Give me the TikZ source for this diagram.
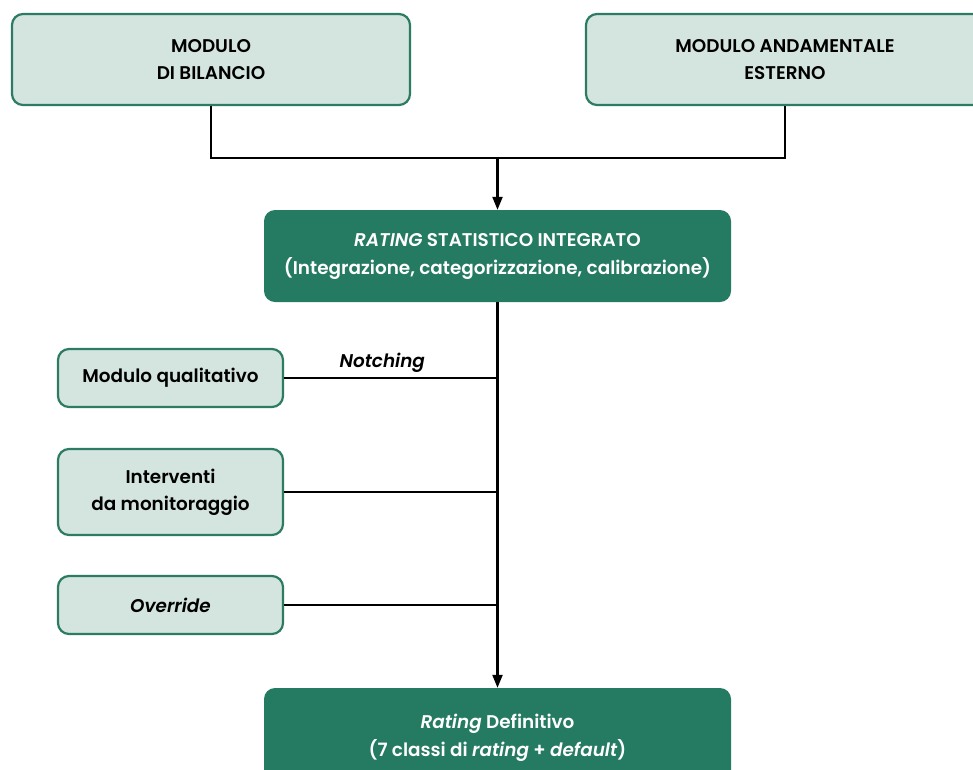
\documentclass[tikz,border=0pt]{standalone}
\usepackage{fontspec}
\setmainfont{Poppins SemiBold}[ItalicFont={Poppins SemiBold Italic}]
\usetikzlibrary{arrows.meta,positioning}
\definecolor{lightfill}{HTML}{D4E4DF}
\definecolor{gborder}{HTML}{2C7B63}
\definecolor{darkfill}{HTML}{257A62}
\begin{document}
\begin{tikzpicture}[x=1pt,y=1pt,
  lightbox/.style={draw=gborder,line width=2.2pt,fill=lightfill,rounded corners=11pt,align=center,font=\fontsize{18.4}{27}\selectfont,inner sep=0pt},
  darkbox/.style={fill=darkfill,rounded corners=11pt,align=center,text=white,font=\fontsize{18.4}{28}\selectfont,inner sep=0pt},
  conn/.style={line width=2.2pt,black},
  arr/.style={conn,-{Triangle[width=10pt,length=13pt]}}]
\useasboundingbox (0,0) rectangle (973,-769);
\node[lightbox,minimum width=398pt,minimum height=91pt] (bil) at (211,-59.5) {MODULO\\DI BILANCIO};
\node[lightbox,minimum width=398pt,minimum height=91pt] (and) at (785,-59.5) {MODULO ANDAMENTALE\\ESTERNO};
\node[darkbox,minimum width=467pt,minimum height=92pt] (rsi) at (497.5,-256) {\textit{RATING} STATISTICO INTEGRATO\\(Integrazione, categorizzazione, calibrazione)};
\node[lightbox,minimum width=225pt,minimum height=58pt] (qual) at (170.5,-378) {Modulo qualitativo};
\node[lightbox,minimum width=225pt,minimum height=86pt] (mon) at (170.5,-492) {Interventi\\da monitoraggio};
\node[lightbox,minimum width=225pt,minimum height=58pt] (ovr) at (170.5,-605) {\textit{Override}};
\node[darkbox,minimum width=467pt,minimum height=100pt] (def) at (497.5,-738) {\textit{Rating} Definitivo\\(7 classi di \textit{rating} + \textit{default})};
\coordinate (j) at (497.5,-158);
\draw[conn] (bil.south) |- (j) -| (and.south);
\draw[arr] (j) -- (rsi.north);
\draw[arr] (rsi.south) -- (def.north);
\draw[conn] (qual.east) -- (qual.east -| rsi.south) node[pos=0.46,above=1pt,font=\fontsize{18.4}{20}\selectfont\itshape] {Notching};
\draw[conn] (mon.east) -- (mon.east -| rsi.south);
\draw[conn] (ovr.east) -- (ovr.east -| rsi.south);
\end{tikzpicture}
\end{document}
